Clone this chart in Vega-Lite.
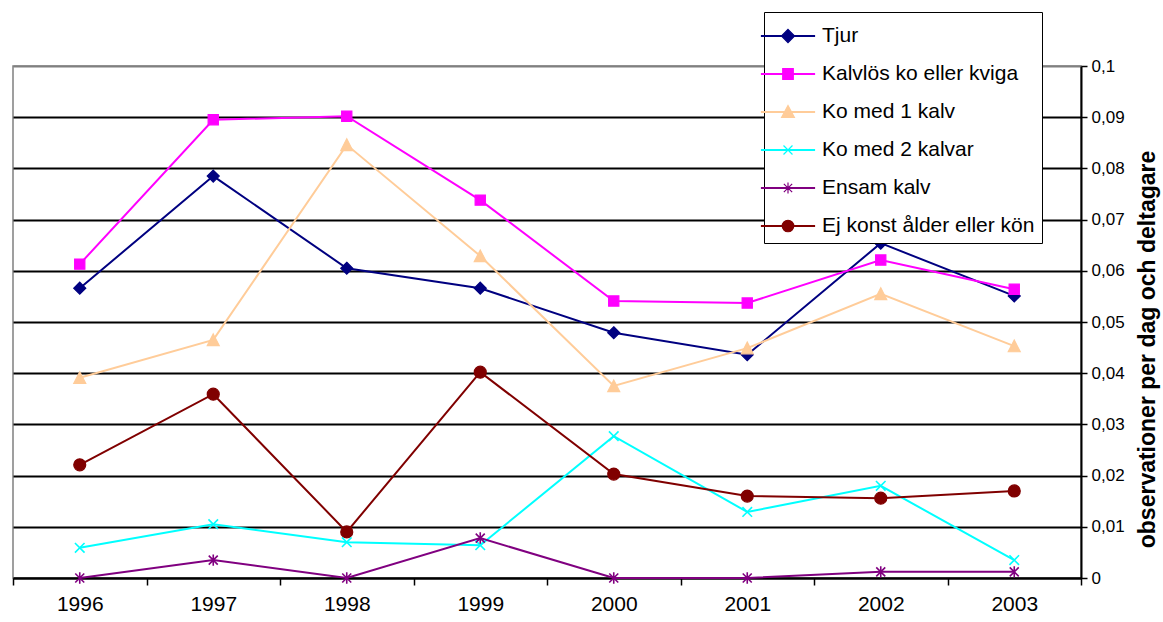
{
  "$schema": "https://vega.github.io/schema/vega-lite/v6.json",
  "width": 1068,
  "height": 512,
  "autosize": "none",
  "padding": {"left": 13, "top": 66, "right": 82, "bottom": 44},
  "background": "white",
  "config": {
    "font": "Liberation Sans",
    "view": {"stroke": "#808080", "strokeWidth": 1.5},
    "legend": {
      "orient": "none",
      "legendX": 751,
      "legendY": -54,
      "labelFontSize": 21,
      "labelColor": "black",
      "labelLimit": 400,
      "labelOffset": 17,
      "symbolSize": 1024,
      "symbolStrokeWidth": 1.2,
      "rowPadding": 11,
      "padding": 7,
      "strokeColor": "black",
      "fillColor": "white"
    }
  },
  "title": {
    "text": "Älgobs över åren",
    "fontSize": 23,
    "fontWeight": "bold",
    "font": "Liberation Sans",
    "color": "black",
    "anchor": "middle",
    "frame": "group",
    "baseline": "alphabetic",
    "offset": 8,
    "dx": 57
  },
  "data": {
    "values": [
      {"year": "1996", "series": "Tjur", "value": 0.0566},
      {"year": "1997", "series": "Tjur", "value": 0.0785},
      {"year": "1998", "series": "Tjur", "value": 0.0605},
      {"year": "1999", "series": "Tjur", "value": 0.0566},
      {"year": "2000", "series": "Tjur", "value": 0.0479},
      {"year": "2001", "series": "Tjur", "value": 0.0436},
      {"year": "2002", "series": "Tjur", "value": 0.0654},
      {"year": "2003", "series": "Tjur", "value": 0.0551},
      {"year": "1996", "series": "Kalvlös ko eller kviga", "value": 0.0613},
      {"year": "1997", "series": "Kalvlös ko eller kviga", "value": 0.0895},
      {"year": "1998", "series": "Kalvlös ko eller kviga", "value": 0.0902},
      {"year": "1999", "series": "Kalvlös ko eller kviga", "value": 0.0738},
      {"year": "2000", "series": "Kalvlös ko eller kviga", "value": 0.0541},
      {"year": "2001", "series": "Kalvlös ko eller kviga", "value": 0.0537},
      {"year": "2002", "series": "Kalvlös ko eller kviga", "value": 0.0621},
      {"year": "2003", "series": "Kalvlös ko eller kviga", "value": 0.0564},
      {"year": "1996", "series": "Ko med 1 kalv", "value": 0.0391},
      {"year": "1997", "series": "Ko med 1 kalv", "value": 0.0465},
      {"year": "1998", "series": "Ko med 1 kalv", "value": 0.0846},
      {"year": "1999", "series": "Ko med 1 kalv", "value": 0.0629},
      {"year": "2000", "series": "Ko med 1 kalv", "value": 0.0375},
      {"year": "2001", "series": "Ko med 1 kalv", "value": 0.0449},
      {"year": "2002", "series": "Ko med 1 kalv", "value": 0.0555},
      {"year": "2003", "series": "Ko med 1 kalv", "value": 0.0453},
      {"year": "1996", "series": "Ko med 2 kalvar", "value": 0.0059},
      {"year": "1997", "series": "Ko med 2 kalvar", "value": 0.0105},
      {"year": "1998", "series": "Ko med 2 kalvar", "value": 0.0070},
      {"year": "1999", "series": "Ko med 2 kalvar", "value": 0.0064},
      {"year": "2000", "series": "Ko med 2 kalvar", "value": 0.0277},
      {"year": "2001", "series": "Ko med 2 kalvar", "value": 0.0129},
      {"year": "2002", "series": "Ko med 2 kalvar", "value": 0.0180},
      {"year": "2003", "series": "Ko med 2 kalvar", "value": 0.0035},
      {"year": "1996", "series": "Ensam kalv", "value": 0},
      {"year": "1997", "series": "Ensam kalv", "value": 0.0035},
      {"year": "1998", "series": "Ensam kalv", "value": 0},
      {"year": "1999", "series": "Ensam kalv", "value": 0.0078},
      {"year": "2000", "series": "Ensam kalv", "value": 0},
      {"year": "2001", "series": "Ensam kalv", "value": 0},
      {"year": "2002", "series": "Ensam kalv", "value": 0.0012},
      {"year": "2003", "series": "Ensam kalv", "value": 0.0012},
      {"year": "1996", "series": "Ej konst ålder eller kön", "value": 0.0221},
      {"year": "1997", "series": "Ej konst ålder eller kön", "value": 0.0359},
      {"year": "1998", "series": "Ej konst ålder eller kön", "value": 0.0090},
      {"year": "1999", "series": "Ej konst ålder eller kön", "value": 0.0402},
      {"year": "2000", "series": "Ej konst ålder eller kön", "value": 0.0203},
      {"year": "2001", "series": "Ej konst ålder eller kön", "value": 0.0160},
      {"year": "2002", "series": "Ej konst ålder eller kön", "value": 0.0156},
      {"year": "2003", "series": "Ej konst ålder eller kön", "value": 0.0170}
    ]
  },
  "encoding": {
    "x": {
      "field": "year",
      "type": "ordinal",
      "bandPosition": 0.5,
      "scale": {"type": "band", "paddingInner": 0, "paddingOuter": 0},
      "axis": {
        "title": null,
        "labelAngle": 0,
        "labelFontSize": 21,
        "labelColor": "black",
        "labelPadding": 8,
        "tickBand": "extent",
        "tickColor": "black",
        "tickSize": 7,
        "tickWidth": 1.5,
        "domainColor": "black",
        "domainWidth": 2,
        "grid": false
      }
    },
    "y": {
      "field": "value",
      "type": "quantitative",
      "scale": {"domain": [0, 0.1], "nice": false, "zero": true},
      "axis": {
        "orient": "right",
        "values": [0, 0.01, 0.02, 0.03, 0.04, 0.05, 0.06, 0.07, 0.08, 0.09, 0.1],
        "labelExpr": "replace(format(datum.value, '.2~f'), '.', ',')",
        "labelFontSize": 17,
        "labelColor": "black",
        "labelPadding": 4,
        "tickColor": "black",
        "tickSize": 6,
        "tickWidth": 1.5,
        "domainColor": "black",
        "domainWidth": 2,
        "grid": true,
        "gridColor": {"condition": {"test": "datum.value >= 0.1", "value": "#808080"}, "value": "black"},
        "gridWidth": 2,
        "title": "observationer per dag och deltagare",
        "titleFontSize": 23,
        "titleFontWeight": "bold",
        "titleColor": "black",
        "titleAngle": 270,
        "titlePadding": 35,
        "titleY": 283
      }
    },
    "color": {
      "field": "series",
      "type": "nominal",
      "scale": {
        "domain": ["Tjur", "Kalvlös ko eller kviga", "Ko med 1 kalv", "Ko med 2 kalvar", "Ensam kalv", "Ej konst ålder eller kön"],
        "range": ["#000080", "#FF00FF", "#FFCC99", "#00FFFF", "#800080", "#800000"]
      },
      "legend": {"title": null}
    }
  },
  "layer": [
    {
      "mark": {"type": "line", "strokeWidth": 2},
      "encoding": {}
    },
    {
      "transform": [{"filter": "datum.year === 'none'"}],
      "mark": {"type": "point", "filled": true, "opacity": 1},
      "encoding": {
        "stroke": {
          "field": "series",
          "type": "nominal",
          "legend": {"title": null},
          "scale": {
            "domain": ["Tjur", "Kalvlös ko eller kviga", "Ko med 1 kalv", "Ko med 2 kalvar", "Ensam kalv", "Ej konst ålder eller kön"],
            "range": ["#000080", "#FF00FF", "#FFCC99", "#00FFFF", "#800080", "#800000"]
          }
        },
        "shape": {
          "field": "series",
          "type": "nominal",
          "legend": {"title": null},
          "scale": {
            "domain": ["Tjur", "Kalvlös ko eller kviga", "Ko med 1 kalv", "Ko med 2 kalvar", "Ensam kalv", "Ej konst ålder eller kön"],
            "range": [
              "M-1.656,-0.03H1.656V0.03H-1.656Z M0,-0.41L0.41,0L0,0.41L-0.41,0Z",
              "M-1.656,-0.03H1.656V0.03H-1.656Z M-0.33,-0.33H0.33V0.33H-0.33Z",
              "M-1.656,-0.03H1.656V0.03H-1.656Z M0,-0.4L0.4,0.34L-0.4,0.34Z",
              "M-1.656,-0.03H1.656V0.03H-1.656Z M-0.28,-0.28L0.28,0.28M-0.28,0.28L0.28,-0.28",
              "M-1.656,-0.03H1.656V0.03H-1.656Z M-0.26,-0.26L0.26,0.26M-0.26,0.26L0.26,-0.26M0,-0.34L0,0.34",
              "M-1.656,-0.03H1.656V0.03H-1.656Z M-0.36,0A0.36,0.36 0 1,0 0.36,0A0.36,0.36 0 1,0 -0.36,0Z"
            ]
          }
        }
      }
    },
    {
      "transform": [{"filter": {"field": "series", "equal": "Tjur"}}],
      "mark": {"type": "point", "filled": true, "opacity": 1, "size": 144, "strokeWidth": 1.2, "shape": "M0,-1L1,0L0,1L-1,0Z"},
      "encoding": {"stroke": {"field": "series", "type": "nominal", "legend": {"title": null}}}
    },
    {
      "transform": [{"filter": {"field": "series", "equal": "Kalvlös ko eller kviga"}}],
      "mark": {"type": "point", "filled": true, "opacity": 1, "size": 144, "strokeWidth": 1.2, "shape": "M-0.85,-0.85H0.85V0.85H-0.85Z"},
      "encoding": {"stroke": {"field": "series", "type": "nominal", "legend": {"title": null}}}
    },
    {
      "transform": [{"filter": {"field": "series", "equal": "Ko med 1 kalv"}}],
      "mark": {"type": "point", "filled": true, "opacity": 1, "size": 144, "strokeWidth": 1.2, "shape": "M0,-1L1,0.95L-1,0.95Z"},
      "encoding": {"stroke": {"field": "series", "type": "nominal", "legend": {"title": null}}}
    },
    {
      "transform": [{"filter": {"field": "series", "equal": "Ko med 2 kalvar"}}],
      "mark": {"type": "point", "filled": true, "opacity": 1, "size": 144, "strokeWidth": 1.6, "shape": "M-0.8,-0.8L0.8,0.8M-0.8,0.8L0.8,-0.8"},
      "encoding": {"stroke": {"field": "series", "type": "nominal", "legend": {"title": null}}}
    },
    {
      "transform": [{"filter": {"field": "series", "equal": "Ensam kalv"}}],
      "mark": {"type": "point", "filled": true, "opacity": 1, "size": 144, "strokeWidth": 1.6, "shape": "M-0.75,-0.75L0.75,0.75M-0.75,0.75L0.75,-0.75M0,-0.95L0,0.95"},
      "encoding": {"stroke": {"field": "series", "type": "nominal", "legend": {"title": null}}}
    },
    {
      "transform": [{"filter": {"field": "series", "equal": "Ej konst ålder eller kön"}}],
      "mark": {"type": "point", "filled": true, "opacity": 1, "size": 144, "strokeWidth": 1.2, "shape": "circle"},
      "encoding": {"stroke": {"field": "series", "type": "nominal", "legend": {"title": null}}}
    }
  ]
}
